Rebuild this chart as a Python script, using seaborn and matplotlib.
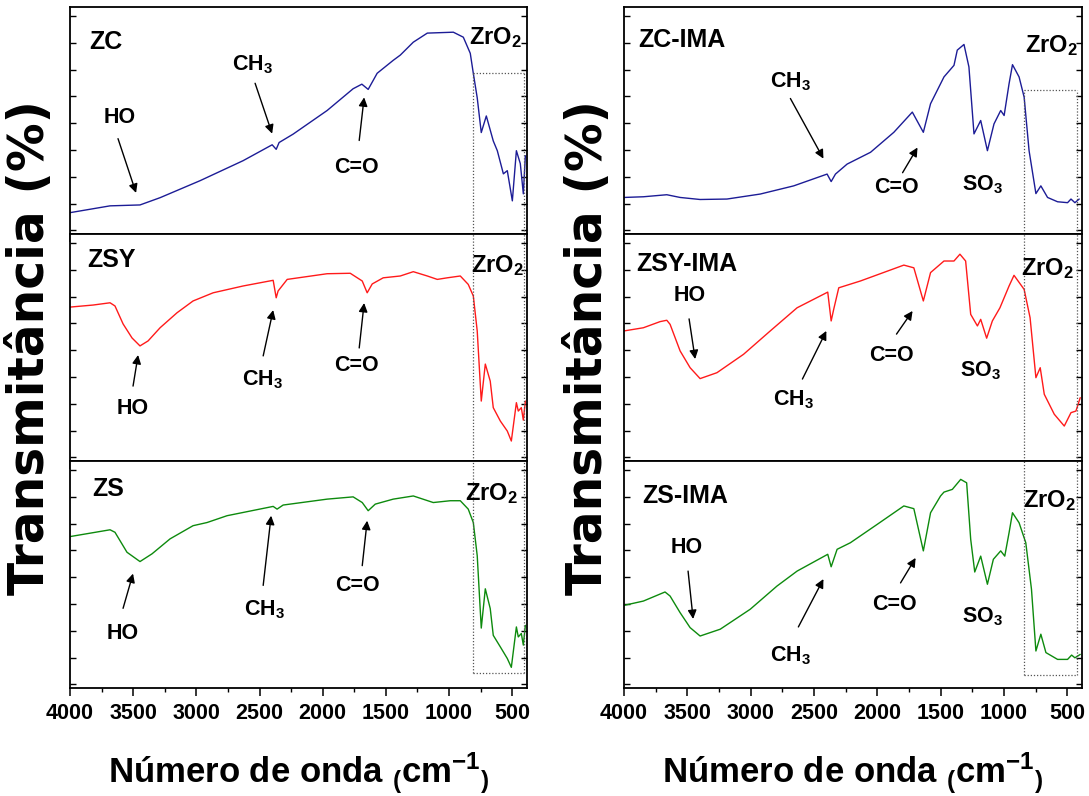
import matplotlib
matplotlib.use("Agg")
import matplotlib.pyplot as plt
from matplotlib.ticker import MultipleLocator
import seaborn as sns
import numpy as np
import pandas as pd

# ---------------- data ----------------
zc_wn = [4000, 3683, 3446, 3287, 2970, 2630, 2400, 2368, 2345, 2234, 1965, 1759, 1690, 1640, 1569,
         1442, 1386, 1283, 1172, 966, 887, 832, 808, 777, 745, 705, 650, 618, 570, 539, 499, 467,
         436, 412, 396]
zc_t = [9.4, 12.4, 12.8, 16.0, 23.5, 32.3, 39.3, 37.3, 40.3, 44.0, 54.4, 64.0, 66.0, 63.7, 70.8,
        76.5, 78.8, 84.5, 88.5, 88.9, 86.7, 79.6, 70.8, 60.0, 44.7, 52.0, 41.0, 36.7, 26.5, 27.9,
        14.6, 36.7, 31.0, 17.7, 34.5]

zsy_wn = [4000, 3818, 3683, 3644, 3580, 3509, 3446, 3382, 3287, 3153, 3026, 2867, 2630, 2392, 2368,
          2353, 2281, 1965, 1782, 1687, 1648, 1608, 1521, 1386, 1283, 1172, 1093, 1014, 911, 848,
          808, 777, 745, 713, 674, 650, 594, 539, 507, 467, 452, 428, 412, 396]
zsy_t = [67.8, 68.7, 69.7, 68.3, 60.4, 54.2, 50.7, 52.9, 58.7, 65.3, 70.5, 74.1, 77.1, 79.6, 71.9,
         74.9, 80.0, 82.5, 82.7, 79.3, 74.1, 78.0, 80.7, 81.5, 83.4, 81.5, 80.0, 80.7, 81.5, 77.8,
         72.7, 57.3, 26.4, 42.7, 35.2, 23.5, 17.6, 13.2, 8.8, 25.7, 22.0, 23.5, 18.0, 26.4]

zs_wn = [4000, 3683, 3644, 3549, 3446, 3351, 3208, 3026, 2915, 2757, 2392, 2361, 2313, 1965, 1759,
         1687, 1640, 1584, 1442, 1283, 1125, 990, 911, 848, 808, 777, 745, 713, 674, 650, 594, 539,
         507, 467, 452, 428, 412, 396]
zs_t = [66.7, 69.7, 68.6, 59.8, 55.7, 59.1, 65.7, 71.5, 72.9, 75.9, 80.0, 78.8, 80.6, 83.2, 84.2,
        81.7, 78.1, 81.0, 83.2, 84.6, 81.7, 82.5, 82.5, 78.8, 72.9, 58.3, 26.4, 43.7, 35.0, 23.2,
        18.1, 13.0, 9.1, 26.9, 22.5, 24.0, 18.9, 27.6]

zcima_wn = [4000, 3847, 3662, 3557, 3399, 3187, 2924, 2660, 2396, 2364, 2330, 2238, 2053, 1869, 1723,
            1636, 1579, 1473, 1394, 1368, 1315, 1276, 1236, 1183, 1130, 1078, 1025, 998, 959, 932,
            880, 840, 801, 747, 708, 655, 576, 497, 470, 439, 405]
zcima_t = [16.1, 16.4, 17.3, 16.1, 15.2, 15.4, 17.6, 21.2, 26.4, 23.1, 26.4, 30.8, 36.0, 44.8, 53.7,
           44.8, 57.4, 69.2, 74.3, 81.0, 83.5, 73.6, 44.1, 50.0, 36.7, 48.5, 54.4, 52.2, 66.2, 74.6,
           69.2, 60.3, 36.7, 17.8, 21.2, 16.1, 14.2, 13.8, 15.4, 13.8, 15.4]

zsyima_wn = [4000, 3847, 3715, 3662, 3636, 3557, 3478, 3399, 3266, 3056, 2845, 2633, 2391, 2364, 2344,
             2304, 2133, 1790, 1711, 1636, 1579, 1473, 1394, 1347, 1302, 1262, 1209, 1183, 1136, 1091,
             1031, 959, 920, 840, 793, 747, 713, 681, 602, 523, 470, 431, 397]
zsyima_t = [57.3, 58.7, 61.4, 62.0, 60.2, 48.5, 41.1, 36.3, 38.9, 47.0, 57.3, 67.5, 74.4, 61.7, 66.8,
            76.3, 79.3, 86.3, 85.1, 70.5, 83.0, 88.1, 88.1, 91.1, 88.1, 64.6, 59.5, 62.4, 54.1, 61.7,
            67.5, 77.1, 81.8, 75.6, 63.1, 36.7, 41.1, 29.4, 20.6, 15.4, 21.3, 22.0, 27.9]

zsima_wn = [4000, 3847, 3676, 3636, 3557, 3478, 3399, 3240, 3003, 2792, 2633, 2391, 2364, 2317, 2212,
            2000, 1790, 1711, 1636, 1579, 1500, 1473, 1407, 1341, 1294, 1262, 1230, 1183, 1130, 1083,
            1025, 993, 959, 932, 880, 827, 782, 747, 708, 668, 576, 497, 465, 439, 397]
zsima_t = [36.4, 38.3, 42.3, 40.5, 33.2, 26.6, 22.9, 25.9, 34.7, 44.9, 51.5, 58.9, 53.4, 61.1, 64.0,
           72.1, 80.2, 79.0, 60.4, 77.2, 84.6, 86.3, 87.5, 91.9, 90.4, 65.5, 51.1, 58.1, 45.7, 56.7,
           60.4, 58.1, 68.4, 77.2, 72.8, 64.0, 43.5, 16.3, 23.7, 15.6, 12.6, 12.6, 14.5, 13.3, 14.8]

panel_names = ["ZC", "ZSY", "ZS", "ZC-IMA", "ZSY-IMA", "ZS-IMA"]
x_ticks = [4000, 3500, 3000, 2500, 2000, 1500, 1000, 500]
y_label = "Transmitância (%)"
x_label = r"Número de onda $_{\mathbf{(}}$cm$^{\mathbf{-1}}$$_{\mathbf{)}}$"

# ---------------- style ----------------
sns.set_style("ticks")
plt.rcParams['font.family'] = ['Liberation Sans', 'DejaVu Sans']
plt.rcParams['font.weight'] = 'bold'
plt.rcParams['mathtext.fontset'] = 'custom'
plt.rcParams['mathtext.rm'] = 'Liberation Sans:bold'
plt.rcParams['mathtext.it'] = 'Liberation Sans:bold'
plt.rcParams['mathtext.bf'] = 'Liberation Sans:bold'
plt.rcParams['mathtext.default'] = 'rm'
for k in ['text.color', 'axes.labelcolor', 'xtick.color', 'ytick.color', 'axes.edgecolor']:
    plt.rcParams[k] = 'black'

BLUE = "#1c1c96"
RED = "#ff1a1a"
GREEN = "#0d8a0d"

fig = plt.figure(figsize=(10.89, 7.96), dpi=100)
W, H = 1089.0, 796.0
col_x = [70 / W, 624 / W]
col_w = [457 / W, 458 / W]
ph = 227.0 / H
y_bottom = 1 - 688 / H

axes = []
for c in range(2):
    col = []
    for r in range(3):
        ax = fig.add_axes([col_x[c], y_bottom + (2 - r) * ph, col_w[c], ph])
        col.append(ax)
    axes.append(col)

series = [
    (axes[0][0], zc_wn, zc_t, BLUE),
    (axes[0][1], zsy_wn, zsy_t, RED),
    (axes[0][2], zs_wn, zs_t, GREEN),
    (axes[1][0], zcima_wn, zcima_t, BLUE),
    (axes[1][1], zsyima_wn, zsyima_t, RED),
    (axes[1][2], zsima_wn, zsima_t, GREEN),
]

for (ax, wn, t, colr), name in zip(series, panel_names):
    df = pd.DataFrame({"wn": wn, "t": t})
    sns.lineplot(data=df, x="wn", y="t", ax=ax, color=colr, lw=1.0, sort=False, estimator=None)
    ax.set_xlim(4000, 383)
    ax.set_ylim(0, 100)
    ax.set_xlabel("")
    ax.set_ylabel("")
    ax.set_xticks(x_ticks)
    ax.xaxis.set_minor_locator(MultipleLocator(250))
    ax.set_yticks(np.arange(96, 0, -11.8))
    ax.tick_params(axis='x', which='major', direction='out', length=6, width=1.1,
                   labelsize=15.5, pad=5, colors='black')
    ax.tick_params(axis='x', which='minor', direction='out', length=3, width=1.0)
    ax.tick_params(axis='y', which='major', direction='in', length=4, width=1.0,
                   left=True, right=True, labelleft=False)
    for s in ax.spines.values():
        s.set_linewidth(1.3)
        s.set_color('black')
        s.set_visible(True)
    for lab in ax.get_xticklabels():
        lab.set_fontweight('bold')

for col in axes:
    for ax in col[:2]:
        ax.tick_params(axis='x', labelbottom=False)

# panel labels
label_pos = [(0.042, 0.845), (0.037, 0.885), (0.048, 0.875),
             (0.031, 0.854), (0.026, 0.866), (0.039, 0.846)]
for (ax, _, _, _), name, (lx, ly) in zip(series, panel_names, label_pos):
    ax.text(lx, ly, name, transform=ax.transAxes, fontsize=18, fontweight='bold',
            ha='left', va='center')

FS = 15.5
arrow_kw = dict(arrowstyle='-|>', color='black', lw=1.0, mutation_scale=13,
                shrinkA=0, shrinkB=0)


def note(ax, txt, tx, ty, tail=None, head=None, fs=FS):
    ax.text(tx, ty, txt, fontsize=fs, fontweight='bold', ha='center', va='center')
    if tail is not None:
        ax.annotate('', xy=head, xytext=tail, arrowprops=arrow_kw)


CH3 = r'CH$_3$'
SO3 = r'SO$_3$'
ZRO2 = r'ZrO$_2$'

# left column
a = axes[0][0]
note(a, 'HO', 3604, 51.3, (3620, 42), (3477, 18.1))
note(a, CH3, 2559, 74.5, (2535, 66.4), (2400, 44.2))
note(a, 'C=O', 1735, 29.2, (1711, 41.2), (1672, 60.2))
note(a, ZRO2, 634, 86.5, fs=17)
a = axes[0][1]
note(a, 'HO', 3501, 23.1, (3501, 33), (3461, 46.7))
note(a, CH3, 2479, 35.6, (2471, 46.3), (2392, 66.5))
note(a, 'C=O', 1735, 41.9, (1711, 49.8), (1672, 69.6))
note(a, ZRO2, 618, 86.0, fs=17)
a = axes[0][2]
note(a, 'HO', 3580, 24.1, (3580, 35.1), (3501, 50.4))
note(a, CH3, 2464, 34.5, (2471, 45.2), (2408, 75.9))
note(a, 'C=O', 1727, 45.2, (1687, 53.9), (1648, 73.7))
note(a, ZRO2, 666, 85.6, fs=17)
# right column
a = axes[1][0]
note(a, CH3, 2686, 67.0, (2686, 59.7), (2425, 33.2))
note(a, 'C=O', 1848, 20.4, (1800, 27.0), (1682, 38.1))
note(a, SO3, 1167, 21.5)
note(a, ZRO2, 621, 83.0, fs=17)
a = axes[1][1]
note(a, 'HO', 3478, 72.7, (3486, 62.6), (3438, 44.9))
note(a, CH3, 2663, 26.8, (2591, 36.1), (2402, 57.3))
note(a, 'C=O', 1887, 46.3, (1848, 55.9), (1721, 66.1))
note(a, SO3, 1183, 40.0)
note(a, ZRO2, 653, 84.8, fs=17)
a = axes[1][2]
note(a, 'HO', 3501, 61.7, (3494, 51.5), (3454, 30.4))
note(a, CH3, 2686, 14.4, (2623, 26.9), (2425, 48.0))
note(a, 'C=O', 1864, 37.0, (1816, 46.3), (1697, 57.3))
note(a, SO3, 1167, 31.5)
note(a, ZRO2, 637, 82.6, fs=17)

# dotted boxes around ZrO2 region
box_kw = dict(color='#555555', lw=0.9, ls=(0, (1, 1.5)))
boxes = [(axes[0], 808, 404, 70.8, 6.6), (axes[1], 843, 423, 63.3, 5.7)]
for col, x0, x1, ytop, ybot in boxes:
    top, mid, bot = col
    top.plot([x0, x0], [0, ytop], **box_kw)
    top.plot([x1, x1], [0, ytop], **box_kw)
    top.plot([x0, x1], [ytop, ytop], **box_kw)
    mid.plot([x0, x0], [0, 100], **box_kw)
    mid.plot([x1, x1], [0, 100], **box_kw)
    bot.plot([x0, x0], [ybot, 100], **box_kw)
    bot.plot([x1, x1], [ybot, 100], **box_kw)
    bot.plot([x0, x1], [ybot, ybot], **box_kw)

# axis titles
for c in range(2):
    cx = col_x[c] + col_w[c] / 2
    fig.text(cx, 1 - 783 / H, x_label, fontsize=25, fontweight='bold',
             ha='center', va='baseline')
for yx in (30 / W, 588 / W):
    fig.text(yx, 1 - 348 / H, y_label, fontsize=35, fontweight='bold',
             family=['DejaVu Sans'], rotation=90, ha='center', va='center')

fig.savefig("out.png", dpi=100)
